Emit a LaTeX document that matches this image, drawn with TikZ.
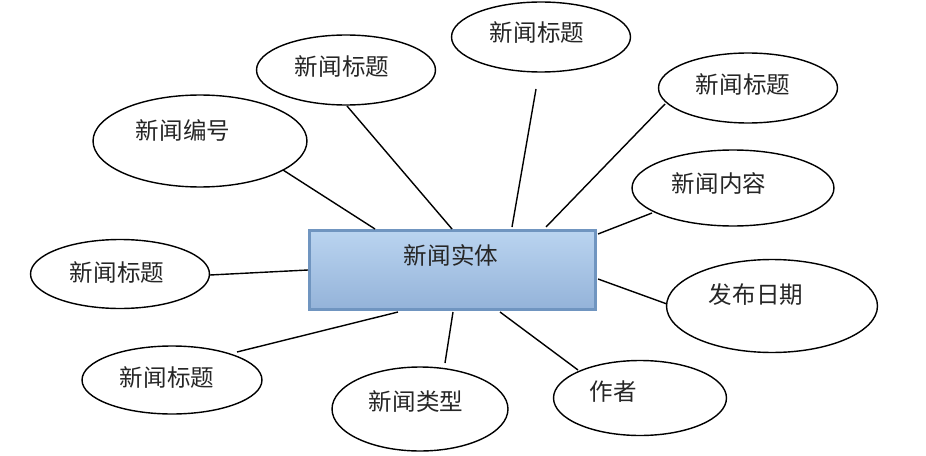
\documentclass[tikz,border=0pt]{standalone}
\usepackage{fontspec}
\newfontfamily\cjk{Noto Sans CJK SC}
\usetikzlibrary{shapes.geometric, calc}

\definecolor{entline}{HTML}{7095C0}
\definecolor{enttop}{HTML}{BAD4F0}
\definecolor{entbot}{HTML}{94B3D9}

\begin{document}
\begin{tikzpicture}[
  x=0.02cm, y=-0.02cm,
  attr/.style={draw, ellipse, line width=0.8pt, inner sep=0pt},
  txt/.style={font=\cjk\fontsize{13.4}{16}\selectfont, text=black!85, inner sep=0pt},
  link/.style={line width=0.8pt},
]
\useasboundingbox (0,0) rectangle (926,456);

% entity
\node[draw=entline, line width=1.7pt, top color=enttop, bottom color=entbot,
      minimum width=5.72cm, minimum height=1.58cm, inner sep=0pt] (ent) at (452.5,270) {};
\node[txt] (ent-t) at (451,255) {新闻实体};

% attributes
\node[attr, minimum width=4.28cm, minimum height=1.84cm] (bh) at (200,141) {};
\node[txt] (bh-t) at (183,130) {新闻编号};
\node[attr, minimum width=3.58cm, minimum height=1.40cm] (bt1) at (346,70) {};
\node[txt] (bt1-t) at (342,67) {新闻标题};
\node[attr, minimum width=3.58cm, minimum height=1.40cm] (bt2) at (541,37) {};
\node[txt] (bt2-t) at (537,33) {新闻标题};
\node[attr, minimum width=3.58cm, minimum height=1.40cm] (bt3) at (748,88) {};
\node[txt] (bt3-t) at (743,85) {新闻标题};
\node[attr, minimum width=4.04cm, minimum height=1.52cm] (nr) at (733,188) {};
\node[txt] (nr-t) at (719,183) {新闻内容};
\node[attr, minimum width=4.22cm, minimum height=1.86cm] (rq) at (772,306) {};
\node[txt] (rq-t) at (756,295) {发布日期};
\node[attr, minimum width=3.46cm, minimum height=1.50cm] (zz) at (640,398) {};
\node[txt] (zz-t) at (613,392) {作者};
\node[attr, minimum width=3.52cm, minimum height=1.68cm] (lx) at (420,409) {};
\node[txt] (lx-t) at (416,402) {新闻类型};
\node[attr, minimum width=3.60cm, minimum height=1.36cm] (bt4) at (172,380) {};
\node[txt] (bt4-t) at (167,378) {新闻标题};
\node[attr, minimum width=3.58cm, minimum height=1.38cm] (bt5) at (120,274) {};
\node[txt] (bt5-t) at (117,273) {新闻标题};

% connector ends
\coordinate (bh-a)  at (283,170); \coordinate (bh-b)  at (375,229);
\coordinate (bt1-a) at (347,106); \coordinate (bt1-b) at (452,229);
\coordinate (bt2-a) at (536,89);  \coordinate (bt2-b) at (512,227);
\coordinate (bt3-a) at (665,104); \coordinate (bt3-b) at (546,227);
\coordinate (nr-a)  at (652,213); \coordinate (nr-b)  at (598,234);
\coordinate (rq-a)  at (667,304); \coordinate (rq-b)  at (598,279);
\coordinate (zz-a)  at (578,370); \coordinate (zz-b)  at (500,312);
\coordinate (lx-a)  at (445,363); \coordinate (lx-b)  at (453,312);
\coordinate (bt4-a) at (237,352); \coordinate (bt4-b) at (398,312);
\coordinate (bt5-a) at (210,275); \coordinate (bt5-b) at (308,270);

\foreach \n in {bh, bt1, bt2, bt3, nr, rq, zz, lx, bt4, bt5}
  \draw[link] (\n-a) -- (\n-b);
\end{tikzpicture}
\end{document}
